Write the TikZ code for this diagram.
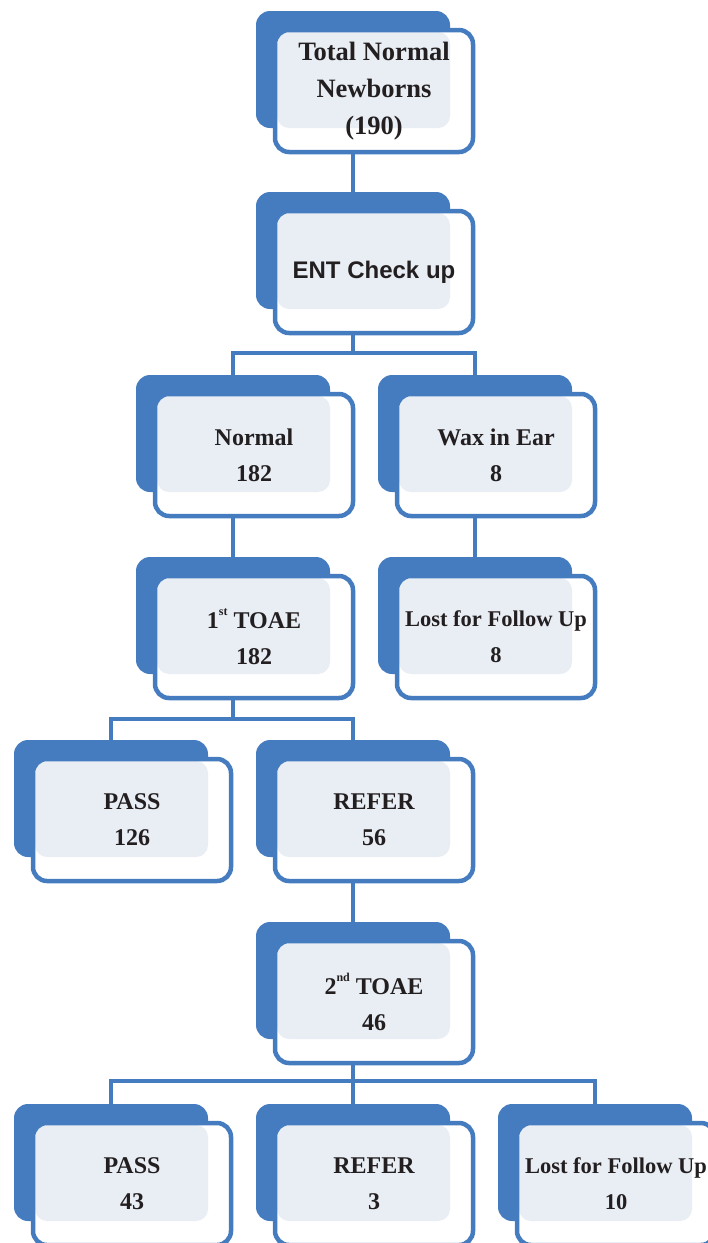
\documentclass[tikz,border=0pt]{standalone}
\usepackage{fontspec}
\setmainfont{Liberation Serif}
\setsansfont{Liberation Sans}

\definecolor{boxblue}{HTML}{457CBF}
\definecolor{boxlight}{HTML}{E9EEF5}
\definecolor{txtgray}{HTML}{231F20}

\tikzset{
  backbox/.style={fill=boxblue, rounded corners=14pt, minimum width=194pt,
    minimum height=117pt, inner sep=0pt},
  frontbox/.style={draw=boxblue, line width=4.5pt, rounded corners=14pt,
    minimum width=198pt, minimum height=122pt, inner sep=0pt, align=center,
    text=txtgray, font=\fontsize{24}{36}\selectfont\bfseries},
  link/.style={draw=boxblue, line width=4.5pt}
}

\newcommand{\ordsup}[1]{\raisebox{0.55em}{\fontsize{12}{12}\selectfont #1}}

% [options]{name}{x}{y}{text}, x y = centre of the front box
\newcommand{\flowbox}[5][]{%
  \node[backbox] (#2b) at (#3-21,#4-21.5) {};
  \fill[white, rounded corners=14pt] (#3-99,#4-61) rectangle (#3+99,#4+61);
  \fill[boxlight, rounded corners=12pt] (#3-97,#4-59) rectangle (#3+76,#4+37);
  \node[frontbox, #1] (#2) at (#3,#4) {#5};
}

\begin{document}
\begin{tikzpicture}[x=1pt, y=-1pt]
  \useasboundingbox (0,0) rectangle (708,1243);

  \flowbox[font=\fontsize{26.5}{37}\selectfont\bfseries]{top}{374}{91}{Total Normal\\Newborns\\(190)}
  \flowbox[font=\fontsize{24}{36}\selectfont\sffamily\bfseries]{ent}{374}{272}{ENT Check up}

  \flowbox{normal}{254}{455}{Normal\\182}
  \flowbox{wax}{496}{455}{Wax in Ear\\8}

  \flowbox{toaeone}{254}{637}{1\ordsup{st} TOAE\\182}
  \flowbox[font=\fontsize{22.5}{36}\selectfont\bfseries]{lostone}{496}{637}{Lost for Follow Up\\8}

  \flowbox{passone}{132}{820}{PASS\\126}
  \flowbox{referone}{374}{820}{REFER\\56}

  \flowbox{toaetwo}{374}{1002}{2\ordsup{nd} TOAE\\46}

  \flowbox{passtwo}{132}{1184}{PASS\\43}
  \flowbox{refertwo}{374}{1184}{REFER\\3}
  \flowbox[font=\fontsize{22.5}{36}\selectfont\bfseries]{losttwo}{616}{1184}{Lost for Follow Up\\10}

  % connectors
  \coordinate (split1) at (353,353);
  \coordinate (split2) at (233,719);
  \coordinate (split3) at (353,1081);

  \draw[link] (topb.center |- top.south) -- (entb.north);
  \draw[link] (entb.center |- ent.south) -- (split1);
  \draw[link] (normalb.north) |- (split1) -| (waxb.north);

  \draw[link] (normalb.center |- normal.south) -- (toaeoneb.north);
  \draw[link] (waxb.center |- wax.south) -- (lostoneb.north);

  \draw[link] (toaeoneb.center |- toaeone.south) -- (split2);
  \draw[link] (passoneb.north) |- (split2) -| (referoneb.north);

  \draw[link] (referoneb.center |- referone.south) -- (toaetwob.north);

  \draw[link] (toaetwob.center |- toaetwo.south) -- (refertwob.north);
  \draw[link] (passtwob.north) |- (split3) -| (losttwob.north);
\end{tikzpicture}
\end{document}
